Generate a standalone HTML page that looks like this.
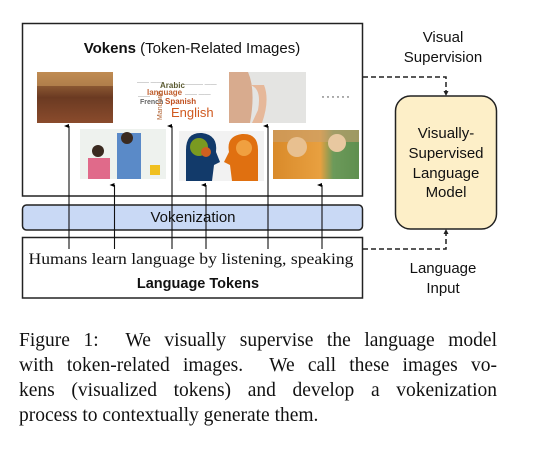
<!DOCTYPE html>
<html><head><meta charset="utf-8"><style>
html,body{margin:0;padding:0;background:#fff;width:544px;height:451px;overflow:hidden}
svg{display:block}
.s{font-family:"Liberation Sans",Arial,sans-serif}
.cap{position:absolute;left:19px;top:328px;width:478px;font-family:"Liberation Serif","Times New Roman",serif;font-size:19.5px;line-height:25px;color:#111}
.cap div{text-align:justify;text-align-last:justify;white-space:nowrap}
.cap div.l{text-align-last:left}
</style></head><body>
<svg width="544" height="451" xmlns="http://www.w3.org/2000/svg">
<defs>
<marker id="a" markerWidth="6" markerHeight="6" refX="3" refY="5" orient="auto" markerUnits="userSpaceOnUse">
<path d="M1,5 L3,0 L5,5 Z" fill="#000"/></marker>
<linearGradient id="crowd" x1="0" y1="0" x2="0" y2="1"><stop offset="0" stop-color="#b07a45"/><stop offset="0.5" stop-color="#6b3a22"/><stop offset="1" stop-color="#8a4b2c"/></linearGradient>
<linearGradient id="kid" x1="0" y1="0" x2="1" y2="0"><stop offset="0" stop-color="#d98a2a"/><stop offset="0.55" stop-color="#e8a040"/><stop offset="0.7" stop-color="#6c9a5a"/><stop offset="1" stop-color="#5f8f4f"/></linearGradient>
</defs>
<rect x="22.5" y="23.5" width="340" height="172.5" fill="#fff" stroke="#222" stroke-width="1.5"/>
<text x="192" y="53" text-anchor="middle" class="s" font-size="15" fill="#111"><tspan font-weight="bold">Vokens</tspan> (Token-Related Images)</text>
<rect x="37" y="72" width="76" height="51" fill="url(#crowd)"/>
<rect x="37" y="72" width="76" height="14" fill="#c9975c" opacity="0.6"/>
<g class="s">
<text x="160" y="88" font-size="8" fill="#5a5a30" font-weight="bold">Arabic</text>
<text x="147" y="95" font-size="8" fill="#c06030" font-weight="bold">language</text>
<text x="140" y="104" font-size="7" fill="#666" font-weight="bold">French</text>
<text x="165" y="104" font-size="8" fill="#c05020" font-weight="bold">Spanish</text>
<text x="171" y="117" font-size="13" fill="#d05a20">English</text>
<text x="162" y="120" font-size="7" fill="#b06030" transform="rotate(-90 162 120)">Mandarin</text>
<text x="137" y="84" font-size="6" fill="#999">—— ——</text>
<text x="185" y="86" font-size="6" fill="#999">——— ——</text>
<text x="185" y="96" font-size="6" fill="#999">—— ——</text>
<text x="138" y="98" font-size="6" fill="#999">——</text>
</g>
<rect x="229" y="72" width="77" height="51" fill="#e4e4e2"/>
<path d="M229,72 L248,72 Q256,90 250,123 L229,123 Z" fill="#d8ab8e"/>
<path d="M250,85 Q262,88 258,110 L252,123 L262,123 Q270,100 264,85 Z" fill="#e6b89a"/>
<g fill="#333"><circle cx="323" cy="97" r="0.7"/><circle cx="328" cy="97" r="0.7"/><circle cx="333" cy="97" r="0.7"/><circle cx="338" cy="97" r="0.7"/><circle cx="343" cy="97" r="0.7"/><circle cx="348" cy="97" r="0.7"/></g>
<rect x="80" y="129" width="86" height="50" fill="#eef2ee"/>
<rect x="117" y="133" width="24" height="46" fill="#5a8ac8"/>
<circle cx="127" cy="138" r="6" fill="#3a2a20"/>
<rect x="88" y="158" width="22" height="21" fill="#e06a8a"/>
<circle cx="98" cy="151" r="6" fill="#3a2a20"/>
<rect x="150" y="165" width="10" height="10" fill="#f0c020"/>
<rect x="179" y="131" width="85" height="50" fill="#f2f2f2"/>
<path d="M186,181 L186,150 Q186,132 202,133 Q218,135 216,152 L220,162 L214,165 L212,181 Z" fill="#123a6a"/>
<circle cx="199" cy="147" r="9" fill="#7a9a20"/>
<circle cx="206" cy="152" r="5" fill="#d06020"/>
<path d="M258,181 L258,150 Q258,133 242,134 Q226,136 229,152 L224,162 L230,165 L232,181 Z" fill="#e07010"/>
<circle cx="244" cy="148" r="8" fill="#f0a040"/>
<rect x="273" y="130" width="86" height="49" fill="url(#kid)"/>
<rect x="273" y="130" width="86" height="12" fill="#c8a070" opacity="0.6"/>
<circle cx="297" cy="147" r="10" fill="#e8c090"/>
<circle cx="337" cy="143" r="9" fill="#e8c8a0"/>
<rect x="22.5" y="205" width="340" height="25" rx="4" fill="#c9d9f5" stroke="#222" stroke-width="1.5"/>
<text x="193" y="222" text-anchor="middle" class="s" font-size="15" fill="#111">Vokenization</text>
<rect x="22.5" y="237.5" width="340" height="60.5" fill="#fff" stroke="#222" stroke-width="1.5"/>
<text x="191" y="264" text-anchor="middle" font-family="'Liberation Serif','Times New Roman',serif" font-size="15.6" fill="#111" textLength="325" lengthAdjust="spacingAndGlyphs">Humans learn language by listening, speaking</text>
<text x="198" y="288" text-anchor="middle" class="s" font-size="14.5" font-weight="bold" fill="#111">Language Tokens</text>
<g stroke="#111" stroke-width="1.1" marker-end="url(#a)">
<line x1="69" y1="249" x2="69" y2="126"/>
<line x1="172" y1="249" x2="172" y2="126"/>
<line x1="268" y1="249" x2="268" y2="126"/>
<line x1="114.5" y1="249" x2="114.5" y2="185"/>
<line x1="206" y1="249" x2="206" y2="185"/>
<line x1="322" y1="249" x2="322" y2="185"/>
</g>
<g fill="none" stroke="#222" stroke-width="1.5" stroke-dasharray="5,3">
<polyline points="363,77 446,77 446,92"/>
<polyline points="363,249 446,249 446,234"/>
</g>
<path d="M443.5,91 L446,96 L448.5,91 Z" fill="#222"/>
<path d="M443.5,234 L446,229 L448.5,234 Z" fill="#222"/>
<rect x="395.5" y="96" width="101" height="133" rx="15" fill="#fdefc8" stroke="#222" stroke-width="1.5"/>
<g class="s" font-size="15" fill="#111" text-anchor="middle">
<text x="446" y="138">Visually-</text>
<text x="446" y="158">Supervised</text>
<text x="446" y="178">Language</text>
<text x="446" y="197">Model</text>
<text x="443" y="42">Visual</text>
<text x="443" y="62">Supervision</text>
<text x="443" y="273">Language</text>
<text x="443" y="293">Input</text>
</g>
</svg>
<div class="cap">
<div>Figure 1:&nbsp; We visually supervise the language model</div>
<div>with token-related images.&nbsp; We call these images vo-</div>
<div>kens (visualized tokens) and develop a vokenization</div>
<div class="l">process to contextually generate them.</div>
</div>
</body></html>
